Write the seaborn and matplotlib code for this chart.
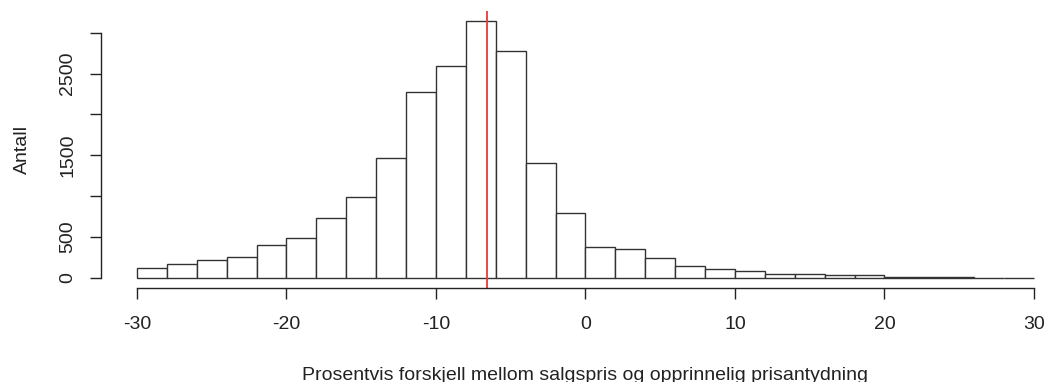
import numpy as np
import pandas as pd
import matplotlib
matplotlib.use("Agg")
import matplotlib.pyplot as plt
import seaborn as sns

# histogram bins (width 2, from -30 to 30) and counts
bin_edges = list(range(-30, 31, 2))
counts = [122, 164, 213, 257, 396, 482, 726, 983, 1472, 2275,
          2593, 3139, 2772, 1411, 791, 379, 351, 245, 139, 110,
          78, 45, 42, 30, 28, 4, 12, 11, 3, 2]
median_line = -6.6
y_ticks = [0, 500, 1000, 1500, 2000, 2500, 3000]
y_ticklabels = ["0", "500", "", "1500", "", "2500", ""]
x_ticks = [-30, -20, -10, 0, 10, 20, 30]

plt.rcParams["font.family"] = ["Liberation Sans", "DejaVu Sans"]

df = pd.DataFrame({"mid": np.array(bin_edges[:-1]) + 1, "n": counts})

fig = plt.figure(figsize=(10.44, 3.82), dpi=100)
ax = fig.add_axes([0.0968, 0.246, 0.928, 0.725])

_ = sns.histplot(data=df, x="mid", weights="n", bins=bin_edges, stat="count",
                 color="white", edgecolor="#333333", linewidth=1.0, alpha=1, ax=ax)
_ = ax.axvline(median_line, color="#e8383a", lw=1.3)

_ = ax.set_xlim(-32.4, 32.4)
_ = ax.set_ylim(-125.6, 3264.6)
for s in ["top", "right"]:
    ax.spines[s].set_visible(False)
ax.spines["left"].set_bounds(0, 3000)
ax.spines["bottom"].set_bounds(-30, 30)
for s in ["left", "bottom"]:
    ax.spines[s].set_linewidth(1.0)
    ax.spines[s].set_color("#222222")

_ = ax.set_yticks(y_ticks)
_ = ax.set_yticklabels(y_ticklabels, rotation=90, va="center")
_ = ax.set_xticks(x_ticks)
_ = ax.set_xticklabels([str(t) for t in x_ticks])
ax.tick_params(axis="both", direction="out", length=8, width=1.0,
               color="#222222", labelsize=14, labelcolor="#222222")
ax.tick_params(axis="y", pad=10)
ax.tick_params(axis="x", pad=12)

_ = ax.set_ylabel("Antall", fontsize=14, va="center", color="#222222")
ax.yaxis.set_label_coords(-0.0815, 0.5)
_ = ax.set_xlabel("Prosentvis forskjell mellom salgspris og opprinnelig prisantydning",
                  fontsize=14, va="baseline", color="#222222")
ax.xaxis.set_label_coords(0.5, -0.332)

fig.savefig("out.png", dpi=100)
